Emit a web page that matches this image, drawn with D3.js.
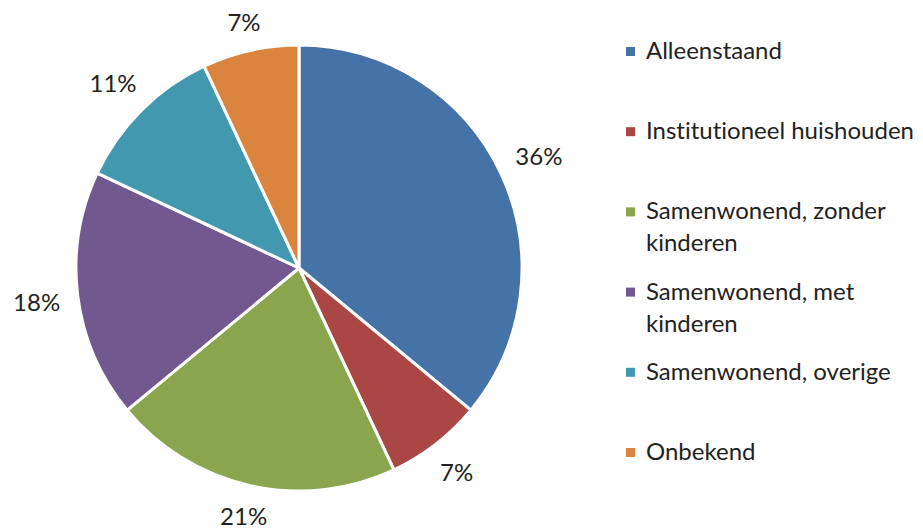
<!DOCTYPE html>
<html>
<head>
<meta charset="utf-8">
<script src="https://cdn.jsdelivr.net/npm/d3@7"></script>
<style>
  body { margin: 0; background: #fff; }
  text { font-family: Lato, "Open Sans", sans-serif; fill: #222; font-variant-ligatures: none; }
</style>
</head>
<body>
<div class="chart"></div>
<script>
// data
const categories = ['Alleenstaand', 'Institutioneel huishouden', 'Samenwonend, zonder kinderen',
  'Samenwonend, met kinderen', 'Samenwonend, overige', 'Onbekend'];
const legendLines = [['Alleenstaand'], ['Institutioneel huishouden'], ['Samenwonend, zonder', 'kinderen'],
  ['Samenwonend, met', 'kinderen'], ['Samenwonend, overige'], ['Onbekend']];
const values = [36, 7, 21, 18, 11, 7];
const colors = ['#4572A7', '#AA4643', '#89A54E', '#71588F', '#4198AF', '#DB843D'];

const width = 923, height = 532;
const cx = 299, cy = 268, radius = 223;
const fontSize = 24;

const svg = d3.select('.chart')
  .append('svg')
    .attr('width', width)
    .attr('height', height);

const pie = d3.pie().sort(null).value(d => d)(values);
const arc = d3.arc().innerRadius(0).outerRadius(radius);

const graph = svg.append('g')
  .attr('transform', `translate(${cx}, ${cy})`);

graph.selectAll('path')
  .data(pie)
  .enter()
  .append('path')
    .attr('d', arc)
    .attr('fill', (d, i) => colors[i])
    .attr('stroke', '#fff')
    .attr('stroke-width', 3)
    .attr('stroke-linejoin', 'round');

// labels outside the slices
const labels = graph.selectAll('text.lbl')
  .data(pie)
  .enter()
  .append('text')
    .attr('class', 'lbl')
    .attr('font-size', fontSize)
    .attr('text-anchor', 'middle')
    .attr('dominant-baseline', 'central')
    .text(d => d.data + '%');

labels.each(function(d) {
  const w = this.getComputedTextLength();
  const h = fontSize * 0.75;
  const a = (d.startAngle + d.endAngle) / 2;
  const s = Math.sin(a), c = Math.cos(a);
  const dist = radius + 17 + Math.abs(s) * w / 2 + Math.abs(c) * h / 2;
  d3.select(this)
    .attr('x', s * dist)
    .attr('y', -c * dist);
});

// legend
const legend = svg.append('g')
  .attr('transform', 'translate(626, 59)');

const items = legend.selectAll('g')
  .data(categories)
  .enter()
  .append('g')
    .attr('transform', (d, i) => `translate(0, ${i * 80.2})`);

items.append('rect')
  .attr('x', 0)
  .attr('y', -12)
  .attr('width', 9)
  .attr('height', 9)
  .attr('fill', (d, i) => colors[i]);

items.append('text')
  .attr('font-size', fontSize)
  .each(function(d, i) {
    d3.select(this).selectAll('tspan')
      .data(legendLines[i])
      .enter()
      .append('tspan')
        .attr('x', 20)
        .attr('y', (t, j) => j * 32)
        .text(t => t);
  });
</script>
</body>
</html>
